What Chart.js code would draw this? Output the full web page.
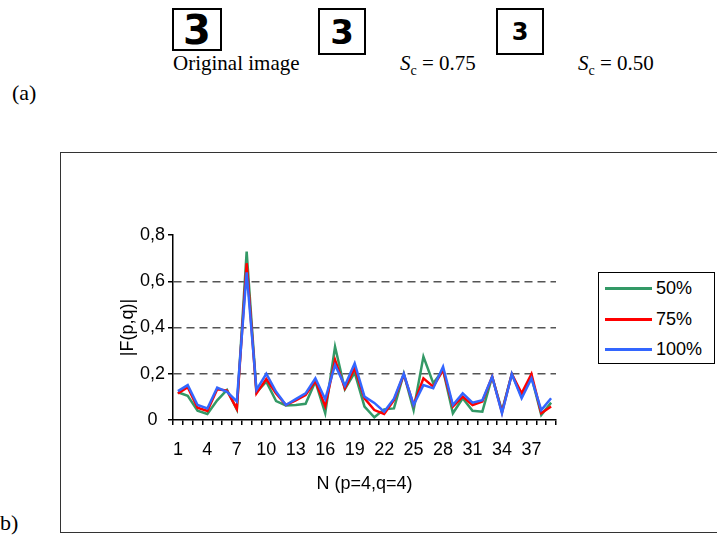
<!DOCTYPE html>
<html>
<head>
<meta charset="utf-8">
<script src="https://cdn.jsdelivr.net/npm/chart.js@4.4.0/dist/chart.umd.min.js"></script>
<style>
  body { margin: 0; width: 717px; height: 543px; position: relative; overflow: hidden; background: #fff; font-family: "Liberation Sans", Arial, sans-serif; }
  .serif { font-family: "Liberation Serif", "Times New Roman", serif; position: absolute; color: #000; }
  .digit { position: absolute; border: 2px solid #000; box-sizing: border-box; text-align: center; font-family: "DejaVu Sans", sans-serif; font-weight: bold; color: #000; }
  #frame { position: absolute; left: 60px; top: 152px; width: 700px; height: 381px; border: 1.5px solid #333; box-sizing: border-box; }
  #chart { position: absolute; left: 0; top: 0; }
  #legend { position: absolute; left: 598px; top: 272px; width: 117px; height: 92px; border: 1px solid #000; box-sizing: border-box; background: #fff; }
  .item { position: absolute; left: 6px; height: 20px; font-size: 18px; line-height: 20px; }
  .item span.sw { position: absolute; left: 0; top: 9px; width: 47px; height: 3px; }
  .item span.tx { position: absolute; left: 51px; top: 0; }
</style>
</head>
<body>
<div class="serif" style="left:12px; top:80px; font-size:22px;">(a)</div>
<div class="digit" style="left:172px; top:8px; width:50px; height:43px; font-size:40px; line-height:40px;">3</div>
<div class="digit" style="left:318px; top:8px; width:48px; height:47px; font-size:34px; line-height:44px;">3</div>
<div class="digit" style="left:496px; top:8px; width:48px; height:47px; font-size:24px; line-height:44px;">3</div>
<div class="serif" style="left:173px; top:51px; font-size:21px;">Original image</div>
<div class="serif" style="left:400px; top:51px; font-size:21px;"><i>S</i><sub style="font-size:14px;">c</sub> = 0.75</div>
<div class="serif" style="left:578px; top:51px; font-size:21px;"><i>S</i><sub style="font-size:14px;">c</sub> = 0.50</div>
<div class="serif" style="left:0px; top:510px; font-size:22px;">b)</div>
<div id="frame"></div>
<canvas id="chart" width="717" height="543"></canvas>
<div id="legend"></div>
<script>
// N (p=4,q=4) categories
const categories = [1, 2, 3, 4, 5, 6, 7, 8, 9, 10, 11, 12, 13, 14, 15, 16, 17, 18, 19, 20,
  21, 22, 23, 24, 25, 26, 27, 28, 29, 30, 31, 32, 33, 34, 35, 36, 37, 38, 39];

// |F(p,q)|
const s50 = [0.12, 0.105, 0.04, 0.026, 0.085, 0.13, 0.045, 0.728, 0.12, 0.166,
  0.082, 0.063, 0.065, 0.07, 0.166, 0.03, 0.317, 0.133, 0.205, 0.058,
  0.012, 0.046, 0.05, 0.2, 0.043, 0.274, 0.159, 0.216, 0.029, 0.094,
  0.04, 0.036, 0.187, 0.04, 0.199, 0.101, 0.187, 0.022, 0.075];
const s75 = [0.115, 0.142, 0.053, 0.039, 0.133, 0.127, 0.048, 0.678, 0.115, 0.177,
  0.115, 0.065, 0.085, 0.108, 0.168, 0.06, 0.26, 0.137, 0.224, 0.094,
  0.043, 0.026, 0.086, 0.197, 0.065, 0.18, 0.144, 0.216, 0.058, 0.101,
  0.065, 0.08, 0.187, 0.033, 0.199, 0.115, 0.199, 0.029, 0.058];
const s100 = [0.125, 0.151, 0.065, 0.05, 0.14, 0.122, 0.08, 0.638, 0.13, 0.2,
  0.122, 0.065, 0.09, 0.115, 0.18, 0.09, 0.238, 0.148, 0.245, 0.101,
  0.074, 0.036, 0.092, 0.2, 0.065, 0.151, 0.137, 0.23, 0.065, 0.115,
  0.075, 0.086, 0.187, 0.029, 0.199, 0.094, 0.18, 0.043, 0.094];

const seriesNames = ['50%', '75%', '100%'];
const seriesColors = ['#339966', '#ff0000', '#3366ff'];
const yTicks = [0, 0.2, 0.4, 0.6, 0.8];

const datasets = [s50, s75, s100].map((d, i) => ({
  label: seriesNames[i],
  data: d,
  borderColor: seriesColors[i],
  backgroundColor: seriesColors[i],
  borderWidth: 2.5,
  pointRadius: 0,
  tension: 0,
  order: 3 - i
}));

const ctx = document.getElementById('chart').getContext('2d');
const chart = new Chart(ctx, {
  type: 'line',
  data: { labels: categories, datasets: datasets },
  options: {
    responsive: false,
    animation: false,
    events: [],
    layout: { padding: { left: 100, top: 235, right: 161, bottom: 33 } },
    plugins: { legend: { display: false }, tooltip: { enabled: false } },
    scales: {
      x: {
        type: 'category',
        offset: true,
        afterFit: s => { s.height = 90; },
        grid: { offset: true, drawOnChartArea: false, tickLength: 5, tickColor: '#000', lineWidth: 1.5 },
        border: { color: '#000', width: 1.5 },
        ticks: {
          autoSkip: false, maxRotation: 0, padding: 14, color: '#000',
          font: { family: 'Liberation Sans', size: 18 },
          callback: (v, i) => (i % 3 === 0 ? String(categories[i]) : '')
        },
        title: {
          display: true, text: 'N (p=4,q=4)', color: '#000',
          font: { family: 'Liberation Sans', size: 18 },
          padding: { top: 0, bottom: 15 }
        }
      },
      y: {
        min: yTicks[0],
        max: yTicks[yTicks.length - 1],
        afterFit: s => { s.width = 73; },
        afterBuildTicks: s => { s.ticks = yTicks.map(v => ({ value: v })); },
        grid: {
          color: c => (c.tick && c.tick.value > 0 && c.tick.value < 0.8 ? '#555' : 'rgba(0,0,0,0)'),
          tickColor: '#000', tickLength: 5, lineWidth: 1.5
        },
        border: { color: '#000', width: 1.5, dash: [8, 5] },
        ticks: {
          crossAlign: 'center', padding: 3, color: '#000',
          font: { family: 'Liberation Sans', size: 18 },
          callback: v => (v === 0 ? '0' : v.toFixed(1).replace('.', ','))
        },
        title: {
          display: true, text: '|F(p,q)|', color: '#000',
          font: { family: 'Liberation Sans', size: 18 },
          padding: { top: 17, bottom: 0 }
        }
      }
    }
  }
});

// legend box
const legend = document.getElementById('legend');
const itemTops = [5, 36, 66];
seriesNames.forEach((name, i) => {
  const it = document.createElement('div');
  it.className = 'item';
  it.style.top = itemTops[i] + 'px';
  it.innerHTML = '<span class="sw" style="background:' + seriesColors[i] + '"></span><span class="tx">' + name + '</span>';
  legend.appendChild(it);
});
</script>
</body>
</html>
